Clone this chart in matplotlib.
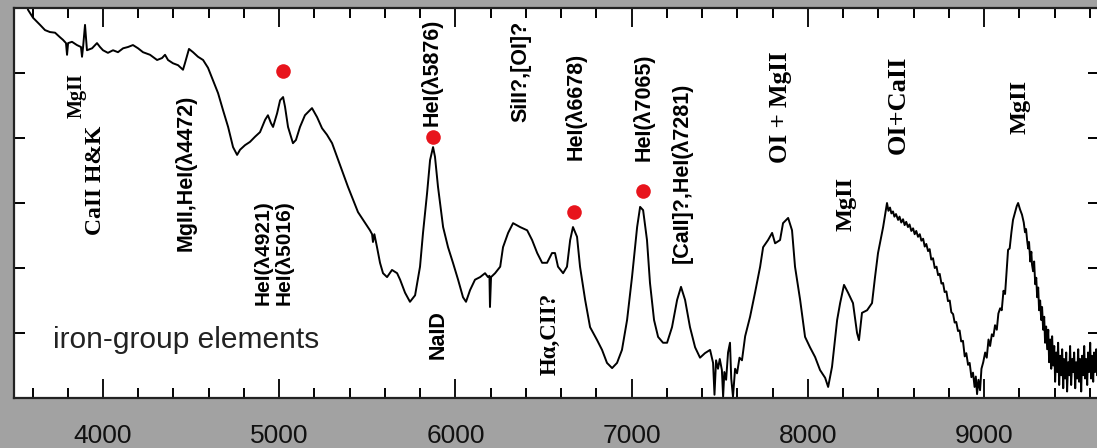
import matplotlib
matplotlib.use("Agg")
import matplotlib.pyplot as plt
from matplotlib.ticker import MultipleLocator

# spectrum: wavelength (A) and relative flux
wave = [3555, 3575, 3603, 3643, 3671, 3699, 3728, 3756, 3773, 3790, 3796, 3802, 3824, 3852, 3875, 3881,
        3887, 3898, 3909, 3938, 3966, 3983, 4000, 4028, 4057, 4085, 4114, 4142, 4170, 4199, 4227,
        4267, 4307, 4335, 4352, 4369, 4397, 4426, 4454, 4465, 4488, 4511, 4539, 4568, 4596, 4624,
        4653, 4681, 4710, 4738, 4761, 4778, 4806, 4834, 4863, 4891, 4920, 4936, 4953, 4965, 4988,
        5005, 5022, 5033, 5050, 5078, 5095, 5118, 5146, 5186, 5215, 5243, 5271, 5300, 5328, 5362,
        5390, 5419, 5447, 5476, 5515, 5527, 5532, 5540, 5555, 5572, 5589, 5612, 5640, 5669, 5686,
        5714, 5742, 5771, 5799, 5816, 5839, 5856, 5873, 5884, 5901, 5930, 5958, 5986, 6015, 6043,
        6060, 6083, 6111, 6140, 6168, 6185, 6193, 6196, 6202, 6225, 6254, 6270, 6299, 6327, 6367,
        6407, 6435, 6464, 6492, 6520, 6548, 6565, 6582, 6611, 6633, 6651, 6667, 6690, 6707, 6736,
        6764, 6804, 6832, 6860, 6889, 6917, 6945, 6974, 7002, 7031, 7048, 7065, 7087, 7104, 7127,
        7150, 7178, 7201, 7229, 7258, 7280, 7303, 7331, 7360, 7388, 7416, 7445, 7462, 7470, 7479,
        7490, 7500, 7512, 7519, 7526, 7536, 7547, 7558, 7565, 7575, 7587, 7598, 7612, 7626, 7644,
        7672, 7700, 7729, 7746, 7774, 7797, 7814, 7842, 7859, 7888, 7910, 7927, 7956, 7984, 8012,
        8041, 8069, 8098, 8115, 8137, 8166, 8183, 8205, 8228, 8256, 8279, 8290, 8307, 8336, 8364,
        8381, 8398, 8427, 8449, 8457, 8466, 8474, 8483, 8491, 8500, 8512, 8520, 8530, 8540, 8549,
        8558, 8568, 8577, 8587, 8597, 8606, 8615, 8625, 8635, 8644, 8654, 8663, 8672, 8682, 8691,
        8700, 8710, 8720, 8730, 8739, 8748, 8758, 8767, 8776, 8786, 8795, 8805, 8814, 8824, 8833,
        8842, 8852, 8861, 8870, 8880, 8890, 8899, 8909, 8918, 8928, 8937, 8946, 8953, 8960, 8968,
        8977, 8985, 8995, 9006, 9015, 9025, 9034, 9044, 9053, 9062, 9072, 9081, 9091, 9100, 9110,
        9119, 9128, 9136, 9145, 9155, 9164, 9175, 9185, 9193, 9204, 9215, 9225, 9232, 9238, 9244,
        9250, 9255, 9262, 9268, 9272, 9278, 9284, 9290, 9296, 9301, 9307, 9312, 9318, 9324, 9329,
        9335, 9341, 9346, 9352, 9358, 9364, 9369, 9375, 9381, 9386, 9392, 9398, 9403, 9409, 9415,
        9420, 9426, 9432, 9437, 9443, 9449, 9454, 9460, 9466, 9471, 9477, 9483, 9488, 9494, 9500,
        9505, 9511, 9517, 9522, 9528, 9534, 9539, 9545, 9551, 9556, 9562, 9568, 9573, 9579, 9585,
        9590, 9596, 9602, 9607, 9613, 9619, 9624, 9630, 9636, 9641, 9652]
flux = [6.15, 5.97, 5.85, 5.74, 5.66, 5.63, 5.62, 5.55, 5.51, 5.46, 5.28, 5.46, 5.48, 5.43, 5.40, 5.25,
        5.40, 5.74, 5.35, 5.38, 5.46, 5.40, 5.35, 5.31, 5.35, 5.32, 5.38, 5.40, 5.43, 5.38, 5.32,
        5.28, 5.20, 5.23, 5.28, 5.20, 5.15, 5.12, 5.05, 5.15, 5.37, 5.32, 5.25, 5.20, 5.08, 4.89,
        4.69, 4.43, 4.17, 3.86, 3.74, 3.82, 3.89, 3.94, 4.02, 4.09, 4.28, 4.35, 4.23, 4.17, 4.38,
        4.58, 4.63, 4.48, 4.17, 3.92, 3.97, 4.17, 4.35, 4.46, 4.32, 4.15, 4.05, 3.92, 3.71, 3.46,
        3.25, 3.05, 2.86, 2.74, 2.58, 2.52, 2.40, 2.52, 2.32, 2.08, 1.92, 1.86, 1.97, 1.92, 1.82,
        1.62, 1.48, 1.58, 2.02, 2.54, 3.15, 3.66, 3.86, 3.71, 3.25, 2.63, 2.32, 2.08, 1.82, 1.55,
        1.48, 1.66, 1.82, 1.86, 1.92, 1.86, 1.88, 1.40, 1.86, 1.92, 2.02, 2.32, 2.54, 2.69, 2.63,
        2.58, 2.43, 2.23, 2.08, 2.08, 2.23, 2.23, 2.02, 1.92, 2.02, 2.43, 2.63, 2.48, 2.02, 1.51,
        1.09, 0.89, 0.74, 0.54, 0.46, 0.54, 0.74, 1.20, 1.86, 2.63, 2.94, 2.89, 2.43, 1.77, 1.20,
        0.94, 0.85, 0.85, 1.09, 1.51, 1.71, 1.51, 1.09, 0.78, 0.62, 0.69, 0.74, 0.54, 0.05, 0.58,
        0.45, 0.60, 0.43, 0.02, 0.40, 0.28, 0.70, 0.85, 0.30, 0.02, 0.45, 0.38, 0.62, 0.58, 0.95,
        1.25, 1.62, 2.02, 2.32, 2.43, 2.54, 2.38, 2.43, 2.69, 2.77, 2.58, 2.02, 1.51, 0.94, 0.78,
        0.63, 0.43, 0.31, 0.17, 0.48, 1.20, 1.46, 1.74, 1.62, 1.46, 1.00, 0.89, 1.31, 1.35, 1.46,
        1.86, 2.23, 2.63, 3.00, 2.88, 2.93, 2.84, 2.87, 2.79, 2.83, 2.74, 2.79, 2.70, 2.75, 2.66,
        2.71, 2.63, 2.67, 2.57, 2.61, 2.52, 2.57, 2.48, 2.52, 2.42, 2.45, 2.33, 2.37, 2.26, 2.29,
        2.13, 2.15, 2.00, 2.02, 1.89, 1.91, 1.76, 1.77, 1.63, 1.64, 1.49, 1.50, 1.32, 1.29, 1.16,
        1.17, 1.03, 1.04, 0.87, 0.88, 0.64, 0.69, 0.51, 0.54, 0.32, 0.39, 0.17, 0.33, 0.06, 0.28,
        0.12, 0.45, 0.55, 0.70, 0.62, 0.90, 0.80, 0.98, 0.95, 1.12, 1.05, 1.30, 1.38, 1.35, 1.65,
        1.60, 1.95, 2.28, 2.30, 2.55, 2.74, 2.85, 2.95, 3.00, 2.90, 2.82, 2.70, 2.55, 2.60, 2.43,
        2.30, 2.40, 2.10, 2.25, 2.05, 1.95, 2.10, 1.75, 1.85, 1.55, 1.70, 1.35, 1.50, 1.20, 1.40,
        1.05, 1.25, 0.85, 1.10, 0.75, 1.05, 0.55, 0.90, 0.45, 0.95, 0.50, 0.80, 0.25, 0.70, 0.40,
        0.85, 0.20, 0.65, 0.35, 0.75, 0.15, 0.60, 0.30, 0.70, 0.10, 0.55, 0.35, 0.80, 0.20, 0.60,
        0.40, 0.70, 0.15, 0.55, 0.30, 0.75, 0.25, 0.60, 0.10, 0.65, 0.35, 0.80, 0.30, 0.60, 0.20,
        0.70, 0.40, 0.85, 0.30, 0.65, 0.25, 0.70, 0.40, 0.75, 0.35, 0.55]

# HeI lines marked with red dots
dot_wave = [5022, 5873, 6673, 7065]
dot_flux = [5.03, 4.02, 2.86, 3.18]

# line identifications: text, wavelength, flux, font kind, size
line_text = ["MgII", "CaII H&K", "MgII,HeI(λ4472)", "HeI(λ4921)", "HeI(λ5016)",
             "HeI(λ5876)", "NaID", "SiII?,[OI]?", "Hα,CII?", "HeI(λ6678)", "HeI(λ7065)",
             "[CaII]?,HeI(λ7281)", "OI + MgII", "MgII", "OI+CaII", "MgII"]
line_wave = [3853, 3955, 4471, 4906, 5028, 5867, 5901, 6372, 6537, 6684, 7070, 7286,
             7842, 8217, 8512, 9204]
line_flux = [4.65, 3.35, 3.47, 2.24, 2.24, 5.01, 0.97, 5.03, 0.98, 4.48, 4.48, 3.47,
             4.48, 2.98, 4.51, 4.48]
line_serif = [True, True, False, False, False, False, False, False, True, False, False, False,
              True, True, True, True]
line_size = [14.5, 17, 15.5, 15, 15, 15.5, 15.5, 15.5, 16.5, 15.5, 15.5, 15.5,
             18, 17.5, 19, 17.5]

fig = plt.figure(figsize=(10.97, 4.48), dpi=100, facecolor="#a2a2a2")
ax = fig.add_axes([14 / 1097, 50 / 448, 1085 / 1097, 390 / 448])
ax.set_facecolor("white")

ax.plot(wave, flux, color="black", lw=1.4)
ax.plot(dot_wave, dot_flux, "o", color="#e8141c", ms=10.5, mec="none")

for t, w, f, serif, s in zip(line_text, line_wave, line_flux, line_serif, line_size):
    fam = "Liberation Serif" if serif else "Liberation Sans"
    ax.text(w, f, t, rotation=90, ha="center", va="center", family=fam,
            fontweight="bold", fontsize=s, color="black")

ax.text(3716, 0.77, "iron-group elements", family="Liberation Sans", fontsize=21.5,
        color="#222222", ha="left", va="baseline")

ax.set_xlim(3495, 9652)
ax.set_ylim(0, 6)
ax.xaxis.set_major_locator(MultipleLocator(1000))
ax.xaxis.set_minor_locator(MultipleLocator(200))
ax.yaxis.set_major_locator(MultipleLocator(1))
ax.tick_params(axis="x", which="major", direction="in", top=True, bottom=True,
               length=13.5, width=1.4, pad=19, labelsize=19, colors="#111111")
ax.tick_params(axis="x", which="minor", direction="in", top=True, bottom=True,
               length=7, width=1.4)
ax.tick_params(axis="y", which="major", direction="in", left=True, right=True,
               length=8, width=1.4, labelleft=False)
for lab in ax.get_xticklabels():
    lab.set_family("Liberation Sans")
for sp in ax.spines.values():
    sp.set_linewidth(1.6)
    sp.set_color("#222222")

fig.savefig("out.png", dpi=100, facecolor=fig.get_facecolor())
